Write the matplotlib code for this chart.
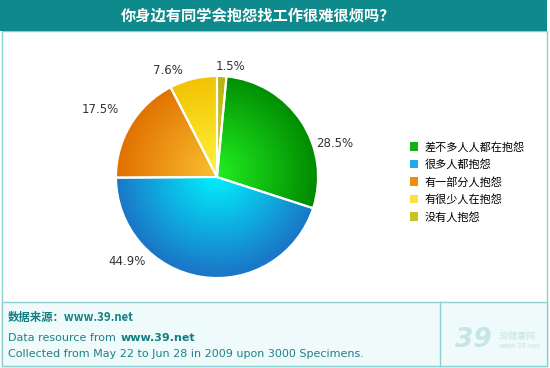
import numpy as np
import matplotlib.pyplot as plt
from matplotlib.patches import Rectangle, Patch
from matplotlib.colors import LinearSegmentedColormap

plt.rcParams['font.family'] = ['Noto Sans CJK SC', 'DejaVu Sans']

# data
title = "你身边有同学会抱怨找工作很难很烦吗？"
labels = ["差不多人人都在抱怨", "很多人都抱怨", "有一部分人抱怨", "有很少人在抱怨", "没有人抱怨"]
shares = [28.5, 44.9, 17.5, 7.6, 1.5]
# inner / outer gradient colours of each slice
inner_colors = ["#22ee22", "#00f4ff", "#fbc030", "#fff23a", "#d8d040"]
outer_colors = ["#008a00", "#1a78c8", "#e07000", "#f2c000", "#b8b010"]
legend_colors = ["#16b016", "#22a8e6", "#ee8e08", "#fbe040", "#c8c224"]
# where the percentage labels sit (angle in degrees, distance in radii)
label_angles = [16, -137, 150, 115, 83]
label_dist = [1.21, 1.22, 1.33, 1.16, 1.10]

teal = "#0f8a8c"
border = "#8ccfcf"
W, H = 550, 368

fig = plt.figure(figsize=(W / 100, H / 100), dpi=100)

# background / frame in pixel coordinates
bg = fig.add_axes([0, 0, 1, 1])
bg.set_xlim(0, W)
bg.set_ylim(H, 0)
bg.axis("off")
bg.add_patch(Rectangle((1.5, 31), 545, 335, facecolor="white", edgecolor=border, lw=1))
bg.add_patch(Rectangle((1.5, 302), 545, 64, facecolor="#effbfb", edgecolor=border, lw=1))
bg.plot([440, 440], [302, 366], color=border, lw=1)
bg.add_patch(Rectangle((0, 0), 547, 31, facecolor=teal, edgecolor="none"))
bg.text(258, 16, title, color="white", fontsize=11, fontweight="bold",
        ha="center", va="center")

# footer
bg.text(8, 317, "数据来源：www.39.net", color="#137f84", fontsize=8.2,
        fontweight="bold", va="center")
bg.text(8, 338, "Data resource from", color="#1d8088", fontsize=8, va="center",
        family="DejaVu Sans")
bg.text(121, 338, "www.39.net", color="#137f84", fontsize=8, va="center",
        fontweight="bold", family="DejaVu Sans")
bg.text(8, 354, "Collected from May 22 to Jun 28 in 2009 upon 3000 Specimens.",
        color="#1d8088", fontsize=8, va="center", family="DejaVu Sans")
# faint watermark logo
bg.text(473, 340, "39", color="#c4e6e4", fontsize=19, fontweight="bold",
        ha="center", va="center", style="italic", family="DejaVu Sans")
bg.text(499, 336, "39健康网", color="#c4e2e2", fontsize=6.5, va="center")
bg.text(499, 346, "www.39.net", color="#c4e2e2", fontsize=5, va="center",
        family="DejaVu Sans")

# pie
cx, cy, r = 217, 177, 101
ax = fig.add_axes([(cx - r) / W, (H - cy - r) / H, 2 * r / W, 2 * r / H])
ax.axis("off")

startangle = 90 - shares[-1] * 3.6
wedges, texts = ax.pie(
    shares, startangle=startangle, counterclock=False, radius=1,
    wedgeprops=dict(edgecolor="white", linewidth=1.5),
)
ax.set_xlim(-1, 1)
ax.set_ylim(-1, 1)
ax.set_aspect("equal")

for v, a, d in zip(shares, label_angles, label_dist):
    t = np.deg2rad(a)
    ax.text(d * np.cos(t), d * np.sin(t), f"{v:.1f}%", fontsize=8.5,
            color="#333333", family="DejaVu Sans", ha="center", va="center")

# radial gradient fill clipped to each wedge
n = 300
xs = np.linspace(-1, 1, n)
X, Y = np.meshgrid(xs, xs)
dist = np.clip(np.hypot(X, Y - 0.05), 0, 1)
for w, c0, c1 in zip(wedges, inner_colors, outer_colors):
    w.set_facecolor("none")
    cmap = LinearSegmentedColormap.from_list("g", [c0, c1])
    im = ax.imshow(dist, cmap=cmap, extent=(-1, 1, -1, 1), origin="lower",
                   vmin=0, vmax=1, zorder=0.5, interpolation="bilinear")
    im.set_clip_path(w)
    w.set_zorder(1)

handles = [Patch(facecolor=c, edgecolor="none") for c in legend_colors]
fig.legend(handles, labels, loc="center left", bbox_to_anchor=(404 / W, 1 - 182 / H),
           frameon=False, fontsize=8, handlelength=0.75, handleheight=0.75,
           handletextpad=0.6, labelspacing=0.6, borderpad=0)

fig.savefig("out.png", dpi=100)
